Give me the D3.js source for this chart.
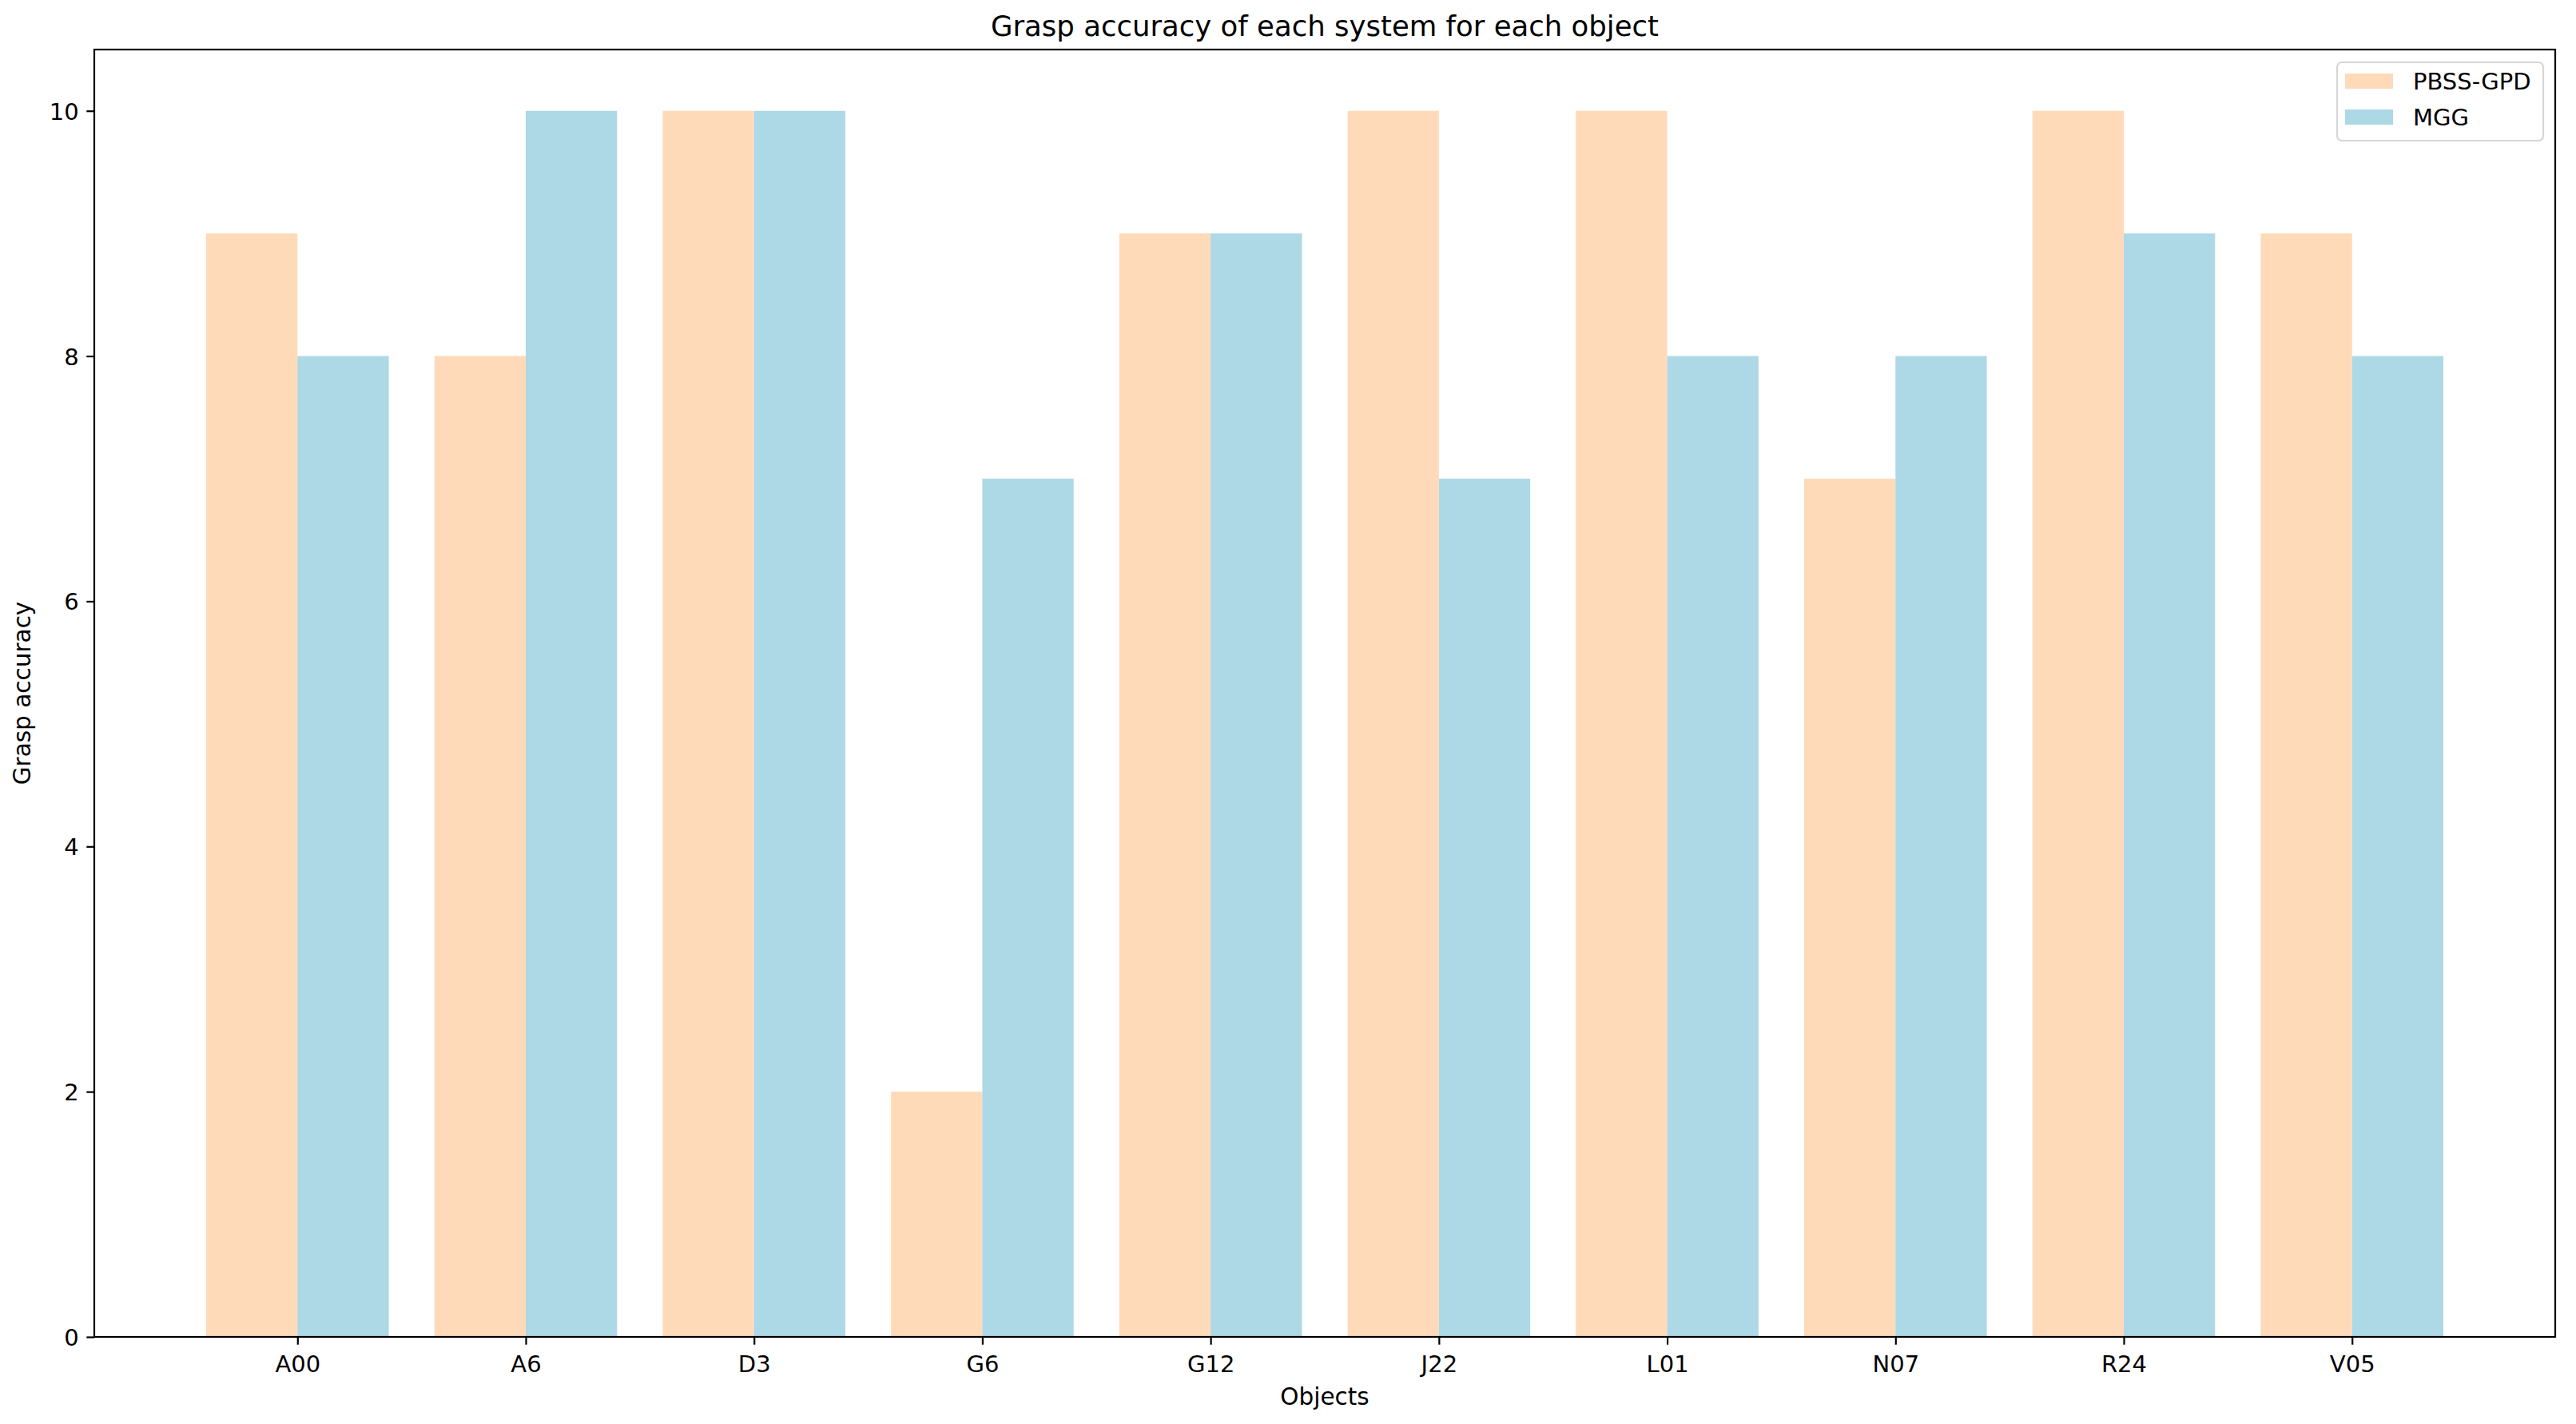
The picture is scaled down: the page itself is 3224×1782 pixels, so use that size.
<!DOCTYPE html>
<html>
<head>
<meta charset="utf-8">
<script src="https://cdn.jsdelivr.net/npm/d3@7"></script>
<style>
  html, body { margin: 0; padding: 0; background: #ffffff; }
  svg { display: block; font-family: "DejaVu Sans", sans-serif; }
</style>
</head>
<body>
<script>
const categories = ["A00", "A6", "D3", "G6", "G12", "J22", "L01", "N07", "R24", "V05"];
const pbssValues = [9, 8, 10, 2, 9, 10, 10, 7, 10, 9];
const mggValues  = [8, 10, 10, 7, 9, 7, 8, 8, 9, 8];
const seriesNames = ["PBSS-GPD", "MGG"];
const seriesColors = ["#FFDAB9", "#ADD8E6"];
const yTicks = [0, 2, 4, 6, 8, 10];
const titleText = "Grasp accuracy of each system for each object";
const xLabel = "Objects";
const yLabel = "Grasp accuracy";

(function () {
const W = 3224, H = 1782;
const mLeft = 118, mRight = 3198, mTop = 62, mBottom = 1673;
const barW = 0.4;
const fs = 29;
const fsLab = 29.5;

const svg = d3.select("body").append("svg").attr("width", W).attr("height", H);
svg.append("rect").attr("width", W).attr("height", H).attr("fill", "#fff");

const x = d3.scaleLinear().domain([-0.89, categories.length - 1 + 0.89]).range([mLeft, mRight]);
const y = d3.scaleLinear().domain([0, 10.5]).range([mBottom, mTop]);

const series = [pbssValues, mggValues];
series.forEach((vals, si) => {
  svg.append("g").selectAll("rect").data(vals).join("rect")
    .attr("x", (d, i) => si === 0 ? x(i - barW) : x(i))
    .attr("width", x(barW) - x(0))
    .attr("y", d => y(d))
    .attr("height", d => y(0) - y(d))
    .attr("fill", seriesColors[si]);
});

// axes
const xAxis = d3.axisBottom(x).tickValues(d3.range(categories.length))
  .tickFormat(i => categories[i]).tickSizeInner(9.7).tickSizeOuter(0).tickPadding(9.7);
const gx = svg.append("g").attr("transform", `translate(0,${mBottom})`).call(xAxis);
gx.select(".domain").remove();
gx.selectAll(".tick line").attr("stroke", "#000").attr("stroke-width", 2.2);
gx.selectAll(".tick text").attr("font-size", fs).attr("fill", "#000")
  .attr("font-family", "DejaVu Sans").attr("y", 44).attr("dy", null);

const yAxis = d3.axisLeft(y).tickValues(yTicks).tickSizeInner(9.7).tickSizeOuter(0).tickPadding(9.7);
const gy = svg.append("g").attr("transform", `translate(${mLeft},0)`).call(yAxis);
gy.select(".domain").remove();
gy.selectAll(".tick line").attr("stroke", "#000").attr("stroke-width", 2.2);
gy.selectAll(".tick text").attr("font-size", fs).attr("fill", "#000")
  .attr("font-family", "DejaVu Sans").attr("dy", "0.36em");

// frame
svg.append("rect").attr("x", mLeft).attr("y", mTop).attr("width", mRight - mLeft).attr("height", mBottom - mTop)
  .attr("fill", "none").attr("stroke", "#000").attr("stroke-width", 2.2);

// title & labels
svg.append("text").attr("x", (mLeft + mRight) / 2).attr("y", 45).attr("text-anchor", "middle")
  .attr("font-size", 35.5).attr("fill", "#000").text(titleText);
svg.append("text").attr("x", (mLeft + mRight) / 2).attr("y", 1758).attr("text-anchor", "middle")
  .attr("font-size", fsLab).attr("fill", "#000").text(xLabel);
svg.append("text").attr("transform", `translate(38,${(mTop + mBottom) / 2}) rotate(-90)`)
  .attr("text-anchor", "middle").attr("font-size", fsLab).attr("fill", "#000").text(yLabel);

// legend
const lg = svg.append("g");
lg.append("rect").attr("x", 2925).attr("y", 78).attr("width", 258).attr("height", 98)
  .attr("rx", 6).attr("ry", 6).attr("fill", "#fff").attr("fill-opacity", 0.8)
  .attr("stroke", "#d6d6d6").attr("stroke-width", 2.2);
seriesNames.forEach((name, i) => {
  const yy = 92 + i * 45;
  lg.append("rect").attr("x", 2935).attr("y", yy).attr("width", 60).attr("height", 19)
    .attr("fill", seriesColors[i]);
  lg.append("text").attr("x", 3020).attr("y", yy + 20).attr("font-size", fs).attr("fill", "#000").text(name);
});
})();
</script>
</body>
</html>
